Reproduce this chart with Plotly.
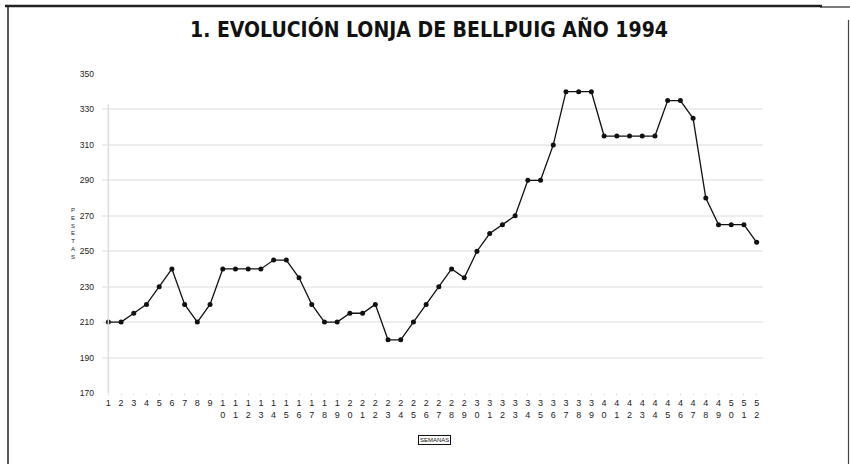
import plotly.graph_objects as go

weeks = list(range(1, 53))
prices = [210, 210, 215, 220, 230, 240, 220, 210, 220, 240,
          240, 240, 240, 245, 245, 235, 220, 210, 210, 215,
          215, 220, 200, 200, 210, 220, 230, 240, 235, 250,
          260, 265, 270, 290, 290, 310, 340, 340, 340, 315,
          315, 315, 315, 315, 335, 335, 325, 280, 265, 265,
          265, 255]
week_labels = [str(w) if w < 10 else str(w)[0] + "<br>" + str(w)[1] for w in weeks]
y_ticks = [170, 190, 210, 230, 250, 270, 290, 310, 330, 350]
title_text = "1. EVOLUCIÓN LONJA DE BELLPUIG AÑO 1994"
x_title = "SEMANAS"
y_title = "PESETAS"

W, H = 850, 464
L, R, T, B = 102, 87, 74, 71
PW, PH = W - L - R, H - T - B


def px(x):
    return (x - L) / PW


def py(y):
    return (H - B - y) / PH


fig = go.Figure()
fig.add_trace(go.Scatter(
    x=weeks, y=prices, mode="lines+markers",
    line=dict(color="#111111", width=1.3),
    marker=dict(color="#111111", size=5),
    showlegend=False, hoverinfo="x+y",
))

shapes = [
    # faint y-axis line at first week
    dict(type="line", xref="x", yref="y", x0=1, x1=1, y0=170, y1=333,
         line=dict(color="#dcdcdc", width=1.5)),
    # frame
    dict(type="line", xref="paper", yref="paper", x0=px(8), x1=px(8), y0=py(5), y1=py(464),
         line=dict(color="#222222", width=1.5)),
    dict(type="line", xref="paper", yref="paper", x0=px(5), x1=px(822), y0=py(6), y1=py(6),
         line=dict(color="#222222", width=2.5)),
    dict(type="line", xref="paper", yref="paper", x0=px(820), x1=px(850), y0=py(7), y1=py(7),
         line=dict(color="#222222", width=1.2)),
    dict(type="line", xref="paper", yref="paper", x0=px(848.5), x1=px(848.5), y0=py(20), y1=py(464),
         line=dict(color="#444444", width=1.2)),
]

annotations = [
    dict(text=title_text, xref="paper", yref="paper", x=px(429), y=py(30),
         showarrow=False, xanchor="center", yanchor="middle",
         font=dict(family="DejaVu Sans Condensed, Liberation Sans Narrow, sans-serif",
                   size=21, color="#111111", weight="bold")),
    dict(text=x_title, xref="paper", yref="paper", x=px(434), y=py(440),
         showarrow=False, xanchor="center", yanchor="middle",
         font=dict(family="Liberation Sans, Arial, sans-serif", size=6, color="#111111"),
         bordercolor="#111111", borderwidth=1, borderpad=1),
    dict(text="<br>".join(list(y_title)), xref="paper", yref="paper", x=px(73), y=py(234),
         showarrow=False, xanchor="center", yanchor="middle",
         font=dict(family="Liberation Sans, Arial, sans-serif", size=6, color="#222222")),
]

fig.update_layout(
    width=W, height=H,
    margin=dict(l=L, r=R, t=T, b=B),
    paper_bgcolor="white", plot_bgcolor="white",
    shapes=shapes, annotations=annotations,
    xaxis=dict(
        range=[0.5, 52.5], tickmode="array", tickvals=weeks, ticktext=week_labels,
        tickangle=0, showgrid=False, zeroline=False, showline=False,
        ticks="outside", ticklen=1, tickcolor="#cccccc",
        tickfont=dict(family="Liberation Sans, Arial, sans-serif", size=9, color="#222222"),
    ),
    yaxis=dict(
        range=[170, 350], tickmode="array", tickvals=y_ticks,
        showgrid=True, gridcolor="#ededed", gridwidth=1.5, zeroline=False, showline=False,
        ticks="", ticklabelstandoff=7,
        tickfont=dict(family="Liberation Sans, Arial, sans-serif", size=8.5, color="#222222"),
    ),
)

fig.write_html("out.html", config={"displayModeBar": False},
               post_script="document.body.style.margin='0';document.body.style.overflow='hidden';")
